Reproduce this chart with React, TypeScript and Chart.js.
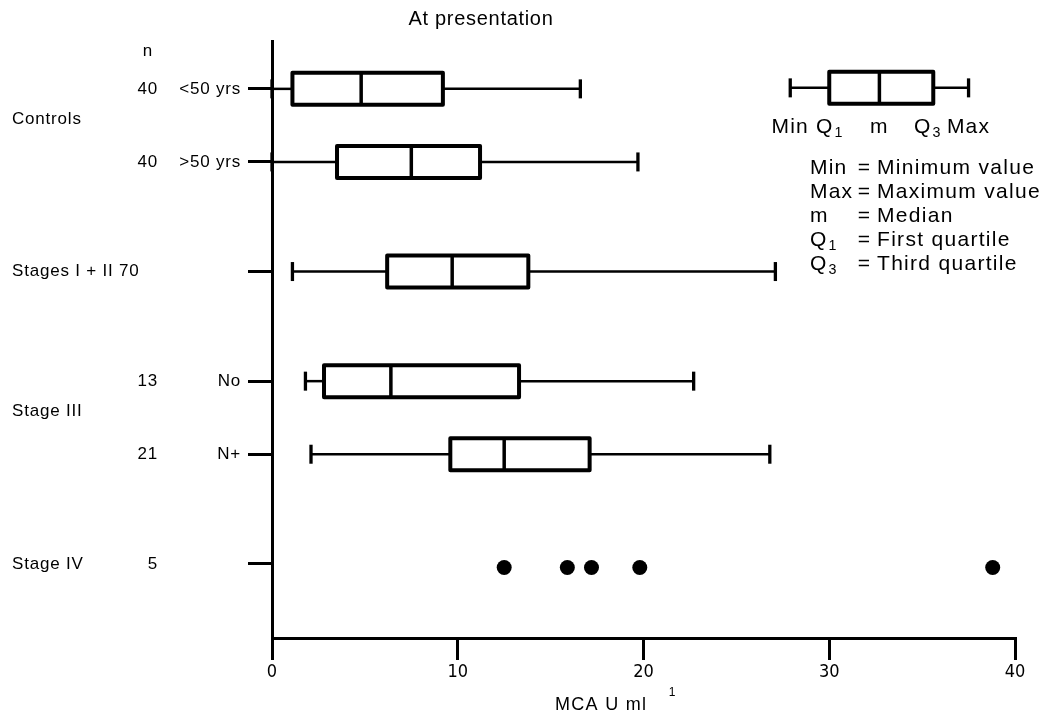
import React, { useEffect, useRef } from "react";
import { Chart, registerables } from "chart.js";

Chart.register(...registerables);

const SANS = '"Liberation Sans", Arial, Helvetica, sans-serif';
const NARROW = '"Liberation Sans Narrow", "DejaVu Sans Condensed", "Liberation Sans", sans-serif';

// ---- data ----
const rowLabels = ["<50 yrs", ">50 yrs", "", "No", "N+", ""];
const rowN = [40, 40, 70, 13, 21, 5];
const rowSlots = [0, 2, 5, 8, 10, 13];
const groupNames = ["Controls", "Stages I + II", "Stage III", "Stage IV"];
const groupRows = [[0, 1], [2], [3, 4], [5]];

const boxMin = [0, 0, 1.1, 1.8, 2.1];
const boxQ1 = [1.1, 3.5, 6.2, 2.8, 9.6];
const boxMedian = [4.8, 7.5, 9.7, 6.4, 12.5];
const boxQ3 = [9.2, 11.2, 13.8, 13.3, 17.1];
const boxMax = [16.6, 19.7, 27.1, 22.7, 26.8];

const stageIVValues = [12.5, 15.9, 17.2, 19.8, 38.8];

const xTickValues = [0, 10, 20, 30, 40];

// key (legend) sample box: min, q1, median, q3, max
const keyValues = [27.9, 30.0, 32.7, 35.6, 37.5];
const keyLabels = [["Min", ""], ["Q", "1"], ["m", ""], ["Q", "3"], ["Max", ""]];
const defTerms = [["Min", ""], ["Max", ""], ["m", ""], ["Q", "1"], ["Q", "3"]];
const defTexts = ["Minimum value", "Maximum value", "Median", "First quartile", "Third quartile"];

function setFont(ctx: CanvasRenderingContext2D, size: number, ls: number, family = SANS) {
  ctx.font = `${size}px ${family}`;
  (ctx as any).letterSpacing = `${ls}px`;
}

function text(ctx: CanvasRenderingContext2D, s: string, x: number, y: number, size: number, align: CanvasTextAlign, ls = 0.8) {
  setFont(ctx, size, ls);
  ctx.textAlign = align;
  ctx.textBaseline = "middle";
  ctx.fillText(s, x, y);
}

function termWidth(ctx: CanvasRenderingContext2D, main: string, sub: string, size: number, ls: number) {
  setFont(ctx, size, ls);
  let w = ctx.measureText(main).width;
  if (sub) {
    setFont(ctx, size * 0.68, 0);
    w += 1 + ctx.measureText(sub).width;
  }
  return w;
}
function drawTerm(ctx: CanvasRenderingContext2D, main: string, sub: string, x: number, y: number, size: number, ls: number) {
  setFont(ctx, size, ls);
  ctx.textAlign = "left";
  ctx.textBaseline = "middle";
  ctx.fillText(main, x, y);
  if (sub) {
    const w = ctx.measureText(main).width;
    setFont(ctx, size * 0.68, 0);
    ctx.fillText(sub, x + w + 1, y + size * 0.3);
  }
}

function line(ctx: CanvasRenderingContext2D, x1: number, y1: number, x2: number, y2: number) {
  ctx.beginPath();
  ctx.moveTo(x1, y1);
  ctx.lineTo(x2, y2);
  ctx.stroke();
}

function drawBox(ctx: CanvasRenderingContext2D, xs: any, y: number, vals: number[]) {
  const [mn, q1, md, q3, mx] = vals.map((v) => xs.getPixelForValue(v));
  ctx.strokeStyle = "#000";
  ctx.lineCap = "butt";
  ctx.lineWidth = 2.5;
  line(ctx, mn, y, q1, y);
  line(ctx, q3, y, mx, y);
  ctx.lineWidth = 3.3;
  line(ctx, mn, y - 9.5, mn, y + 9.5);
  line(ctx, mx, y - 9.5, mx, y + 9.5);
  ctx.lineWidth = 4;
  ctx.lineJoin = "round";
  ctx.fillStyle = "#fff";
  ctx.beginPath();
  ctx.rect(q1, y - 16, q3 - q1, 32);
  ctx.fill();
  ctx.stroke();
  ctx.lineWidth = 3.5;
  line(ctx, md, y - 16, md, y + 16);
}

const drawPlugin = {
  id: "boxplotDraw",
  afterDraw(chart: any) {
    const ctx: CanvasRenderingContext2D = chart.ctx;
    const xs = chart.scales.x;
    const ys = chart.scales.y;
    ctx.save();
    for (let i = 0; i < boxMin.length; i++) {
      drawBox(ctx, xs, ys.getPixelForValue(rowSlots[i]), [boxMin[i], boxQ1[i], boxMedian[i], boxQ3[i], boxMax[i]]);
    }
    // key box
    const keyY = ys.getPixelForValue(rowSlots[0]) - 1;
    drawBox(ctx, xs, keyY, keyValues);
    ctx.fillStyle = "#000";
    keyLabels.forEach(([m, s], i) => {
      const size = 21;
      const w = termWidth(ctx, m, s, size, 1.2);
      const cx = xs.getPixelForValue(keyValues[i]) + (i === 3 ? -6 : 0);
      drawTerm(ctx, m, s, cx - w / 2, keyY + 39, size, 1.2);
    });
    // definitions
    const defLeft = 810;
    const defTop = 168;
    const defStep = 24;
    defTerms.forEach(([m, s], i) => {
      const y = defTop + i * defStep;
      drawTerm(ctx, m, s, defLeft, y, 21, 1.2);
      text(ctx, "=", 864, y, 21, "center", 0);
      text(ctx, defTexts[i], 877, y, 21, "left", 1.3);
    });

    ctx.fillStyle = "#000";
    // title
    text(ctx, "At presentation", 481, 19, 20, "center", 0.7);
    // left labels
    text(ctx, "n", 148, 51, 17, "center", 0.8);
    rowSlots.forEach((slot, i) => {
      const y = ys.getPixelForValue(slot);
      if (i !== 2) text(ctx, String(rowN[i]), 158, y, 17, "right", 0.8);
      if (rowLabels[i]) text(ctx, rowLabels[i], 241, y, 17, "right", 0.8);
    });
    groupNames.forEach((g, gi) => {
      const rows = groupRows[gi];
      let y: number;
      if (rows.length === 1) {
        y = ys.getPixelForValue(rowSlots[rows[0]]);
      } else {
        const a = ys.getPixelForValue(rowSlots[rows[0]]);
        const b = ys.getPixelForValue(rowSlots[rows[1]]);
        y = (a + b) / 2 - 6;
      }
      const label = rows.length === 1 && rows[0] === 2 ? `${g} ${rowN[2]}` : g;
      text(ctx, label, 12, y, 17, "left", 0.8);
    });
    // axis title
    text(ctx, "MCA U ml", 555, 705, 18, "left", 1.3);
    text(ctx, "1", 672, 693, 12, "center", 0);
    ctx.restore();
  },
};

export default function App() {
  const ref = useRef<HTMLCanvasElement | null>(null);
  useEffect(() => {
    if (!ref.current) return;
    const chart = new Chart(ref.current, {
      type: "scatter",
      data: {
        datasets: [
          {
            label: "Stage IV",
            data: stageIVValues.map((v) => ({ x: v, y: rowSlots[5] + 0.1 })),
            pointRadius: 7.5,
            pointHoverRadius: 7.5,
            backgroundColor: "#000",
            borderWidth: 0,
          },
        ],
      },
      options: {
        animation: false,
        responsive: true,
        maintainAspectRatio: false,
        events: [],
        layout: { padding: { top: 41, right: 33, left: 0, bottom: 0 } },
        plugins: { legend: { display: false }, tooltip: { enabled: false }, title: { display: false } },
        scales: {
          x: {
            type: "linear",
            position: "bottom",
            min: 0,
            max: 40,
            afterBuildTicks: (s: any) => {
              s.ticks = xTickValues.map((v) => ({ value: v }));
            },
            afterFit: (s: any) => {
              s.height = 77;
            },
            grid: { drawOnChartArea: false, drawTicks: true, tickLength: 22, lineWidth: 3, color: "#000" },
            border: { display: true, width: 3, color: "#000" },
            ticks: {
              color: "#000",
              font: { family: NARROW, size: 18 },
              padding: 2,
              maxRotation: 0,
              autoSkip: false,
              callback: (v: any) => String(v),
            },
          },
          y: {
            type: "linear",
            reverse: true,
            min: -1.31,
            max: 15.03,
            afterBuildTicks: (s: any) => {
              s.ticks = rowSlots.map((v) => ({ value: v }));
            },
            afterFit: (s: any) => {
              s.width = 272;
            },
            grid: { drawOnChartArea: false, drawTicks: true, tickLength: 24, lineWidth: 3, color: "#000" },
            border: { display: true, width: 3, color: "#000" },
            ticks: { display: false },
          },
        },
      },
      plugins: [drawPlugin],
    } as any);
    return () => chart.destroy();
  }, []);
  return (
    <div style={{ position: "fixed", left: 0, top: 0, width: 1048, height: 715, background: "#fff" }}>
      <canvas ref={ref} style={{ display: "block" }} />
    </div>
  );
}
